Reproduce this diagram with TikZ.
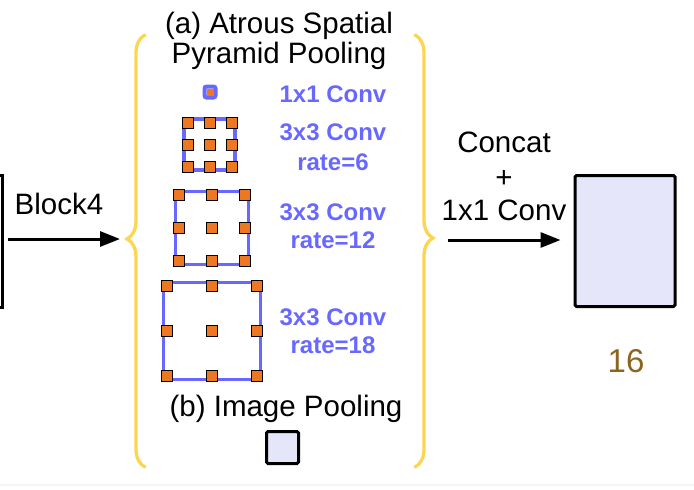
\documentclass[tikz,border=0pt]{standalone}
\usepackage{fontspec}
\setmainfont{Liberation Sans}
\usetikzlibrary{arrows.meta,decorations.pathreplacing}
\definecolor{asppblue}{RGB}{104,104,255}
\definecolor{taporange}{RGB}{238,119,34}
\definecolor{featfill}{RGB}{230,230,250}
\definecolor{braceyellow}{RGB}{252,214,80}
\definecolor{sizebrown}{RGB}{140,100,30}
\begin{document}
\begin{tikzpicture}[x=1pt,y=-1pt,
    bigtext/.style={font=\fontsize{29.5}{34}\selectfont},
    ratetext/.style={text=asppblue,font=\fontsize{24}{28}\selectfont\bfseries},
    featmap/.style={draw=black,line width=3pt,fill=featfill,rounded corners=1.5pt,inner sep=0pt},
    tap/.style={draw=black,line width=0.8pt,fill=taporange,minimum size=11pt,inner sep=0pt},
    kernel/.style={draw=asppblue,line width=3.5pt},
    arr/.style={line width=3pt,-{Triangle[length=20pt,width=15pt]}},
    bracket/.style={draw=braceyellow,line width=3.3pt,line cap=round,decorate,
      decoration={brace,amplitude=18pt,aspect=#1}}]
      \clip (0,0) rectangle (694,490);

      % Feature maps
      \node[featmap,rounded corners=0pt,fill=none,minimum width=100pt,minimum height=132pt] (block) at (-47.5,241) {};
      \node[featmap,minimum width=100pt,minimum height=131pt] (out) at (625,241) {};
      \node[featmap,minimum width=32pt,minimum height=32pt] (pool) at (282.5,447.5) {};

      % Braces round the ASPP branches
      \draw[bracket=0.528] (145,467) -- (145,35);
      \draw[bracket=0.47] (415,35) -- (415,467);
      \coordinate (asppin) at (127,239);
      \coordinate (asppout) at (433,240);

      % Arrows
      \draw[arr,shorten <=3.5pt,shorten >=7pt] (block.east |- asppin) -- (asppin);
      \draw[arr,shorten <=15pt,shorten >=13pt] (asppout) -- (asppout -| out.west);
      \node[bigtext,anchor=base] (blocklbl) at (59,214) {Block4};
      \node[bigtext,anchor=base] (concat1) at (504,152) {Concat};
      \node[bigtext,anchor=base] (concat2) at (504,187) {+};
      \node[bigtext,anchor=base] (concat3) at (504,220) {1x1 Conv};

      % Titles
      \node[bigtext,anchor=base] (titlea1) at (279,33) {(a) Atrous Spatial};
      \node[bigtext,anchor=base] (titlea2) at (279,63.5) {Pyramid Pooling};
      \node[bigtext,anchor=base] (titleb) at (286,416.5) {(b) Image Pooling};

      % 1x1 kernel
      \draw[kernel,line width=4pt,rounded corners=2pt] (204.5,86.5) rectangle (215.5,97.5);
      \node[fill=taporange,minimum size=7pt,inner sep=0pt] (tap0) at (210,92) {};

      % 3x3 atrous kernels
      \foreach \cx/\cy/\d [count=\k] in {209.5/144.5/22, 212/228/33, 212/331/45} {
        \draw[kernel] ({\cx-\d-3.5},{\cy-\d-3.5}) rectangle ({\cx+\d+3.5},{\cy+\d+3.5});
        \foreach \i in {0,1,2}
          \foreach \j in {0,1,2}
            \node[tap] (tap\k\i\j) at ({\cx+(\i-1)*\d},{\cy+(\j-1)*\d}) {};
      }

      % Branch labels
      \node[ratetext,anchor=base] (conv1) at (333,102) {1x1 Conv};
      \node[ratetext,anchor=base] (conv6) at (333,140) {3x3 Conv};
      \node[ratetext,anchor=base] (rate6) at (333,170) {rate=6};
      \node[ratetext,anchor=base] (conv12) at (333,220) {3x3 Conv};
      \node[ratetext,anchor=base] (rate12) at (333,248) {rate=12};
      \node[ratetext,anchor=base] (conv18) at (333,325) {3x3 Conv};
      \node[ratetext,anchor=base] (rate18) at (333,353) {rate=18};

      % Output stride
      \node[text=sizebrown,font=\fontsize{33}{38}\selectfont,anchor=base] (stride) at (626,372) {16};

      \draw[gray!8,line width=2pt] (0,484.5) -- (694,484.5);
    \end{tikzpicture}
\end{document}
